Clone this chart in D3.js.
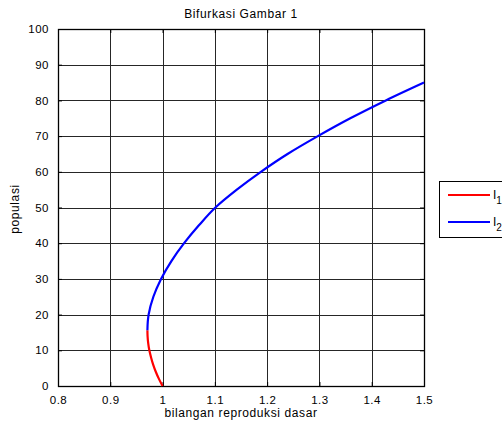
<!DOCTYPE html>
<html>
<head>
<meta charset="utf-8">
<script src="https://cdn.jsdelivr.net/npm/d3@7"></script>
<style>
  html, body { margin: 0; padding: 0; background: #fff; }
  svg { display: block; font-family: "Liberation Sans", Arial, sans-serif; }
</style>
</head>
<body>
<svg id="chart" width="502" height="424"></svg>
<script>
// Bifurcation branches: basic reproduction number (x) against population (y)
const branchI1R = [1.000, 0.993, 0.987, 0.982, 0.978, 0.9747, 0.9725, 0.9713, 0.971];
const branchI1Pop = [0, 2, 4, 6, 8, 10, 12, 14, 15.6];

const branchI2R = [0.971, 0.9717, 0.9733, 0.9824, 0.9971, 1.0169, 1.0412, 1.0695, 1.1011,
                   1.142, 1.188, 1.239, 1.297, 1.359, 1.427, 1.500];
const branchI2Pop = [15.6, 18, 20, 25, 30, 35, 40, 45, 50,
                     55, 60, 65, 70, 75, 80, 85];

const xTicks = [0.8, 0.9, 1.0, 1.1, 1.2, 1.3, 1.4, 1.5];
const xTickLabels = ["0.8", "0.9", "1", "1.1", "1.2", "1.3", "1.4", "1.5"];
const yTicks = [0, 10, 20, 30, 40, 50, 60, 70, 80, 90, 100];

const seriesNames = ["I", "I"];
const seriesSubs = ["1", "2"];
const seriesColors = ["#ff0000", "#0000ff"];

const svg = d3.select("#chart");
const W = 502, H = 424;
const plot = { left: 58, right: 424, top: 29, bottom: 386 };

const x = d3.scaleLinear().domain([0.8, 1.5]).range([plot.left, plot.right]);
const y = d3.scaleLinear().domain([0, 100]).range([plot.bottom, plot.top]);

svg.append("rect").attr("width", W).attr("height", H).attr("fill", "#fff");

// grid
const grid = svg.append("g").attr("stroke", "#262626").attr("stroke-width", 1).attr("shape-rendering", "crispEdges");
grid.selectAll("line.gx").data(xTicks.slice(1, -1)).join("line")
  .attr("x1", d => Math.round(x(d)) + 0.5).attr("x2", d => Math.round(x(d)) + 0.5)
  .attr("y1", plot.top).attr("y2", plot.bottom);
grid.selectAll("line.gy").data(yTicks.slice(1, -1)).join("line")
  .attr("y1", d => Math.round(y(d)) + 0.5).attr("y2", d => Math.round(y(d)) + 0.5)
  .attr("x1", plot.left).attr("x2", plot.right);

// axes with inward ticks
const labelFont = "Liberation Sans, Arial, sans-serif";
const fontSize = 11.5;
const xAxis = d3.axisBottom(x).tickValues(xTicks).tickSize(-4).tickPadding(10)
  .tickFormat((d, i) => xTickLabels[i]);
const gx = svg.append("g").attr("transform", `translate(0,${plot.bottom})`).call(xAxis);
gx.select(".domain").remove();
gx.selectAll(".tick line").attr("stroke", "#000");
gx.selectAll(".tick text").attr("font-size", fontSize).attr("font-family", labelFont)
  .attr("fill", "#000").attr("letter-spacing", "0.5px");

const xAxisTop = d3.axisTop(x).tickValues(xTicks).tickSize(-4).tickFormat("");
const gxt = svg.append("g").attr("transform", `translate(0,${plot.top})`).call(xAxisTop);
gxt.select(".domain").remove();
gxt.selectAll(".tick line").attr("stroke", "#000");

const yAxis = d3.axisLeft(y).tickValues(yTicks).tickSize(-4).tickPadding(9);
const gy = svg.append("g").attr("transform", `translate(${plot.left},0)`).call(yAxis);
gy.select(".domain").remove();
gy.selectAll(".tick line").attr("stroke", "#000");
gy.selectAll(".tick text").attr("font-size", fontSize).attr("font-family", labelFont)
  .attr("fill", "#000").attr("letter-spacing", "0.5px");

const yAxisRight = d3.axisRight(y).tickValues(yTicks).tickSize(-4).tickFormat("");
const gyr = svg.append("g").attr("transform", `translate(${plot.right},0)`).call(yAxisRight);
gyr.select(".domain").remove();
gyr.selectAll(".tick line").attr("stroke", "#000");

// axes box
svg.append("rect")
  .attr("x", plot.left + 0.5).attr("y", plot.top + 0.5)
  .attr("width", plot.right - plot.left).attr("height", plot.bottom - plot.top)
  .attr("fill", "none").attr("stroke", "#000").attr("stroke-width", 1.3);

// curves, x drawn as a function of population
const line = d3.line().x(d => x(d[0])).y(d => y(d[1])).curve(d3.curveMonotoneY);
const branches = [
  d3.zip(branchI1R, branchI1Pop),
  d3.zip(branchI2R, branchI2Pop)
];
svg.selectAll("path.branch").data(branches).join("path")
  .attr("class", "branch")
  .attr("d", line)
  .attr("fill", "none")
  .attr("stroke", (d, i) => seriesColors[i])
  .attr("stroke-width", 2.2)
  .attr("stroke-linejoin", "round");

// title and axis labels
svg.append("text").attr("x", 241).attr("y", 18).attr("text-anchor", "middle")
  .attr("font-size", 12).attr("letter-spacing", "0.6px").text("Bifurkasi Gambar 1");
svg.append("text").attr("x", 241).attr("y", 417).attr("text-anchor", "middle")
  .attr("font-size", 12).attr("letter-spacing", "0.6px").text("bilangan reproduksi dasar");
svg.append("text").attr("transform", "translate(19,209) rotate(-90)").attr("text-anchor", "middle")
  .attr("font-size", 12).attr("letter-spacing", "0.6px").text("populasi");

// legend
const legend = svg.append("g");
legend.append("rect").attr("x", 439.5).attr("y", 181.5).attr("width", 80).attr("height", 56)
  .attr("fill", "#fff").attr("stroke", "#000").attr("stroke-width", 1);
seriesNames.forEach((name, i) => {
  const ly = 195 + i * 27;
  legend.append("line").attr("x1", 448).attr("x2", 490).attr("y1", ly).attr("y2", ly)
    .attr("stroke", seriesColors[i]).attr("stroke-width", 2.2);
  const t = legend.append("text").attr("x", 493).attr("y", ly + 4).attr("font-size", 12);
  t.append("tspan").text(name);
  t.append("tspan").attr("font-size", 10).attr("dy", 5).text(seriesSubs[i]);
});
</script>
</body>
</html>
